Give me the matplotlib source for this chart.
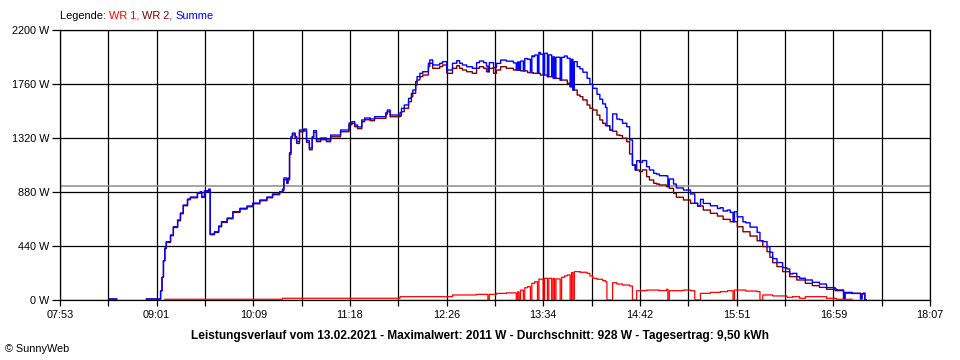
import numpy as np
import matplotlib
matplotlib.use("Agg")
import matplotlib.pyplot as plt

# ---------------- data ----------------
tick_labels = ["07:53", "09:01", "10:09", "11:18", "12:26", "13:34",
               "14:42", "15:51", "16:59", "18:07"]
y_values = [0, 440, 880, 1320, 1760, 2200]
average_w = 928

wr2_times = ["08:28", "08:33", "08:54", "09:04", "09:05", "09:06", "09:07", "09:08",
             "09:11", "09:13", "09:16", "09:18", "09:20", "09:23", "09:25", "09:30",
             "09:32", "09:33", "09:35", "09:38", "09:39", "09:42", "09:45", "09:47",
             "09:51", "09:55", "10:00", "10:05", "10:09", "10:14", "10:19", "10:23",
             "10:28", "10:30", "10:31", "10:33", "10:34", "10:35", "10:36", "10:37",
             "10:39", "10:40", "10:42", "10:45", "10:47", "10:49", "10:51", "10:52",
             "10:54", "10:57", "11:01", "11:04", "11:11", "11:17", "11:19", "11:21",
             "11:23", "11:26", "11:28", "11:32", "11:35", "11:40", "11:43", "11:44",
             "11:46", "11:53", "11:54", "11:56", "11:59", "12:01", "12:02", "12:04",
             "12:05", "12:07", "12:09", "12:13", "12:14", "12:16", "12:21", "12:23",
             "12:26", "12:30", "12:33", "12:35", "12:37", "12:40", "12:42", "12:44",
             "12:47", "12:49", "12:52", "12:54", "12:56", "12:59", "13:01", "13:04",
             "13:08", "13:13", "13:18", "13:23", "13:27", "13:32", "13:37", "13:41",
             "13:46", "13:51", "13:53", "13:55", "13:58", "14:00", "14:02", "14:05",
             "14:07", "14:09", "14:12", "14:14", "14:16", "14:18", "14:21", "14:23",
             "14:26", "14:28", "14:30", "14:33", "14:35", "14:37", "14:39", "14:42",
             "14:44", "14:47", "14:49", "14:52", "14:54", "14:56", "15:01", "15:03",
             "15:06", "15:08", "15:13", "15:18", "15:23", "15:27", "15:32", "15:37",
             "15:41", "15:46", "15:51", "15:55", "16:00", "16:05", "16:09", "16:12",
             "16:14", "16:16", "16:19", "16:23", "16:28", "16:33", "16:39", "16:44",
             "16:49", "16:54", "17:00", "17:06", "17:07", "17:12", "17:18", "17:19",
             "17:20", "17:21", "17:22"]
wr2_watts = [8, np.nan, 8, 75, 185, 320, 418, 469,
             524, 591, 646, 703, 768, 817, 833, 869,
             877, 836, 884, 898, 532, 550, 597, 632,
             662, 714, 741, 760, 784, 809, 833, 858,
             877, 890, 980, 950, 980, 1186, 1317, 1346,
             1317, 1276, 1371, 1379, 1284, 1224, 1317, 1366,
             1290, 1306, 1290, 1330, 1371, 1428, 1439, 1412,
             1396, 1453, 1469, 1461, 1480, 1480, 1513, 1534,
             1493, 1500, 1535, 1562, 1616, 1657, 1684, 1752,
             1793, 1820, 1833, 1902, 1929, 1888, 1902, 1915,
             1847, 1888, 1909, 1888, 1874, 1860, 1860, 1847,
             1888, 1901, 1888, 1860, 1888, 1847, 1874, 1901,
             1888, 1874, 1867, 1853, 1847, 1833, 1820, 1806,
             1792, 1766, 1738, 1711, 1670, 1657, 1630, 1589,
             1562, 1548, 1507, 1467, 1440, 1420, 1385, 1375,
             1344, 1340, 1318, 1290, 1190, 1100, 1059, 1046,
             1060, 1005, 978, 951, 945, 937, 924, 910,
             869, 837, 815, 788, 766, 733, 706, 684,
             657, 638, 597, 556, 521, 483, 435, 394,
             348, 304, 272, 231, 190, 163, 136, 117,
             103, 87, 76, 10, 56, 54, 10, 50,
             55, 0, np.nan]

wr1_times = ["09:07", "10:30", "11:53", "12:30", "12:47", "12:55", "12:56", "13:01",
             "13:08", "13:15", "13:16", "13:17", "13:18", "13:20", "13:21", "13:23",
             "13:25", "13:26", "13:28", "13:30", "13:31", "13:34", "13:35", "13:37",
             "13:38", "13:40", "13:41", "13:42", "13:43", "13:46", "13:47", "13:49",
             "13:51", "13:53", "13:54", "13:55", "13:56", "14:00", "14:05", "14:07",
             "14:09", "14:12", "14:16", "14:18", "14:19", "14:23", "14:26", "14:30",
             "14:35", "14:37", "14:40", "14:47", "14:56", "15:01", "15:02", "15:03",
             "15:13", "15:18", "15:21", "15:25", "15:32", "15:39", "15:44", "15:48",
             "15:49", "15:57", "16:05", "16:07", "16:09", "16:16", "16:26", "16:30",
             "16:35", "16:39", "16:54", "17:01", "17:12"]
wr1_watts = [6, 14, 27, 41, 46, 0, 46, 54,
             58, 0, 66, 0, 80, 0, 100, 109,
             0, 136, 149, 0, 170, 0, 177, 0,
             177, 0, 175, 0, 172, 0, 185, 196,
             204, 0, 223, 0, 231, 226, 217, 196,
             177, 169, 158, 149, 0, 141, 130, 122,
             114, 0, 76, 81, 76, 87, 0, 76,
             81, 76, 0, 54, 62, 68, 76, 0,
             81, 73, 68, 0, 41, 33, 22, 27,
             14, 27, 14, 6, np.nan]

# ---------------- helpers ----------------
def to_min(s):
    h, m = s.split(":")
    return int(h) * 60 + int(m)

t_start, t_end = to_min(tick_labels[0]), to_min(tick_labels[-1])
grid = np.arange(t_start, t_end + 1)

def step_on_grid(times, vals):
    t = np.array([to_min(s) for s in times])
    v = np.array(vals, dtype=float)
    pos = np.searchsorted(t, grid, side="right") - 1
    out = np.where(pos >= 0, v[np.clip(pos, 0, None)], np.nan)
    return out

wr1 = step_on_grid(wr1_times, wr1_watts)
wr2 = step_on_grid(wr2_times, wr2_watts)
both_nan = np.isnan(wr1) & np.isnan(wr2)
summe = np.where(both_nan, np.nan, np.nan_to_num(wr1) + np.nan_to_num(wr2))

# ---------------- figure ----------------
plt.rcParams["font.family"] = ["Liberation Sans", "DejaVu Sans"]
fig = plt.figure(figsize=(9.6, 3.6), dpi=100)
ax = fig.add_axes([60 / 960, 60 / 360, 870 / 960, 270 / 360])

xt = np.linspace(t_start, t_end, 19)
ax.set_xticks(xt)
xl = []
for i in range(19):
    xl.append(tick_labels[i // 2] if i % 2 == 0 else "")
ax.set_xticklabels(xl)
ax.set_yticks(y_values)
ax.set_yticklabels([f"{v} W" for v in y_values])
ax.set_xlim(t_start, t_end)
ax.set_ylim(0, 2200)

ax.grid(True, color="black", lw=0.9, zorder=1)
ax.set_axisbelow(True)
for sp in ax.spines.values():
    sp.set_color("black")
    sp.set_linewidth(0.9)
ax.tick_params(axis="x", direction="out", length=4, width=0.9, pad=3, labelsize=7.8)
ax.tick_params(axis="y", direction="out", length=6, width=0.9, pad=1.5, labelsize=7.8)

ax.axhline(average_w, color="#8c8c8c", lw=1.1, zorder=1.5)

ax.plot(grid, wr1, color="#ff0000", lw=0.9, drawstyle="steps-post", zorder=3)
ax.plot(grid, wr2, color="#800000", lw=1.0, drawstyle="steps-post", zorder=4)
ax.plot(grid, summe, color="#0000ff", lw=1.0, drawstyle="steps-post", zorder=5)

fig.text(0.5, (360 - 336) / 360,
         "Leistungsverlauf vom 13.02.2021 - Maximalwert: 2011 W - Durchschnitt: 928 W - Tagesertrag: 9,50 kWh",
         ha="center", va="center", fontsize=8.6, fontweight="bold")
fig.text(5 / 960, (360 - 349) / 360, "© SunnyWeb", ha="left", va="center", fontsize=7.8)

# legend as coloured text pieces
parts = [("Legende: ", "black"), ("WR 1, ", "#ff0000"), ("WR 2, ", "#800000"), ("Summe", "#0000ff")]
fig.canvas.draw()
renderer = fig.canvas.get_renderer()
x_px = 60
for txt, col in parts:
    t = fig.text(x_px / 960, (360 - 16) / 360, txt, ha="left", va="center",
                 fontsize=7.9, color=col)
    bb = t.get_window_extent(renderer=renderer)
    x_px += bb.width

fig.savefig("out.png", dpi=100)
